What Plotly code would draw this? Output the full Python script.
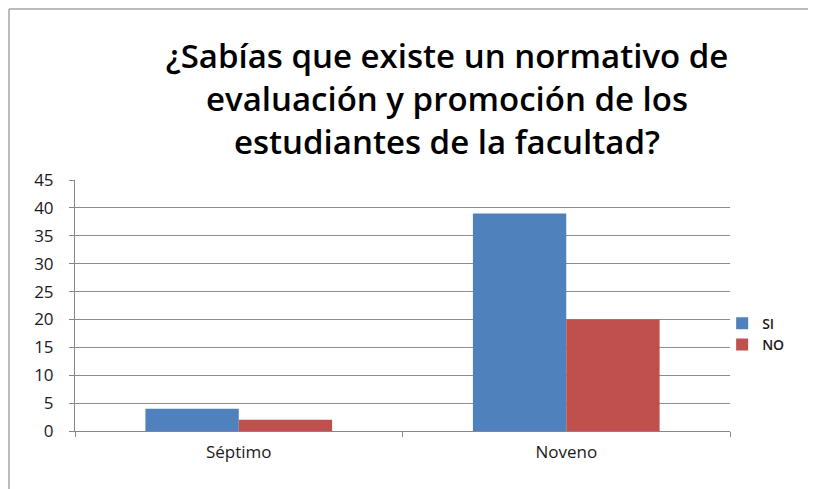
import plotly.graph_objects as go

categories = ["Séptimo", "Noveno"]
si_values = [4, 39]
no_values = [2, 20]
series_names = ["SI", "NO"]
title_lines = ["¿Sabías que existe un normativo de",
               "evaluación y promoción de los",
               "estudiantes de la facultad?"]

W, H = 816, 489
# page body adds an 8px offset; layout values below compensate for it
L, T = 67, 172
PW, PH = 655, 251
R, B = W - L - PW, H - T - PH

fig = go.Figure()
fig.add_trace(go.Bar(x=categories, y=si_values, name=series_names[0],
                     marker=dict(color="#4F81BD", line=dict(width=0))))
fig.add_trace(go.Bar(x=categories, y=no_values, name=series_names[1],
                     marker=dict(color="#C0504D", line=dict(width=0))))

fig.update_layout(
    width=W, height=H,
    margin=dict(l=L, r=R, t=T, b=B, autoexpand=False),
    paper_bgcolor="white", plot_bgcolor="white",
    barmode="group", bargap=0.43, bargroupgap=0,
    title=dict(text="<br>".join(title_lines), x=439 / W, xanchor="center",
               y=1 - 60 / H, yanchor="top",
               font=dict(family="Open Sans", size=33, color="#000000", weight=600)),
    font=dict(family="Open Sans", color="#1a1a1a"),
    legend=dict(x=0.988, y=0.386, xanchor="left", yanchor="middle",
                font=dict(size=14, color="#1a1a1a", weight=600), tracegroupgap=0,
                itemwidth=30, bgcolor="rgba(0,0,0,0)"),
    showlegend=True,
)
fig.update_xaxes(type="category", tickson="boundaries", ticks="outside", ticklen=5,
                 tickcolor="#868686", showline=True, linecolor="#868686", linewidth=1,
                 showgrid=False, tickfont=dict(size=17, color="#1a1a1a"),
                 range=[-0.5, 1.5], automargin=False, ticklabelstandoff=6)
fig.update_yaxes(range=[0, 45], dtick=5, ticks="outside", ticklen=5,
                 tickcolor="#868686", showline=True, linecolor="#868686", linewidth=1,
                 showgrid=True, gridcolor="#8c8c8c", gridwidth=1,
                 tickfont=dict(size=17, color="#1a1a1a"), ticklabelstandoff=12,
                 zeroline=False, automargin=False)

# outer chart frame (left and top edges)
fx = (1 - L) / PW
fy = (H - B - 1) / PH
fig.add_shape(type="line", xref="paper", yref="paper",
              x0=fx, x1=fx, y0=-(B) / PH, y1=fy,
              line=dict(color="#a6a6a6", width=1.5))
fig.add_shape(type="line", xref="paper", yref="paper",
              x0=fx, x1=(W - L) / PW, y0=fy, y1=fy,
              line=dict(color="#a6a6a6", width=1.5))

fig.write_html("out.html")
